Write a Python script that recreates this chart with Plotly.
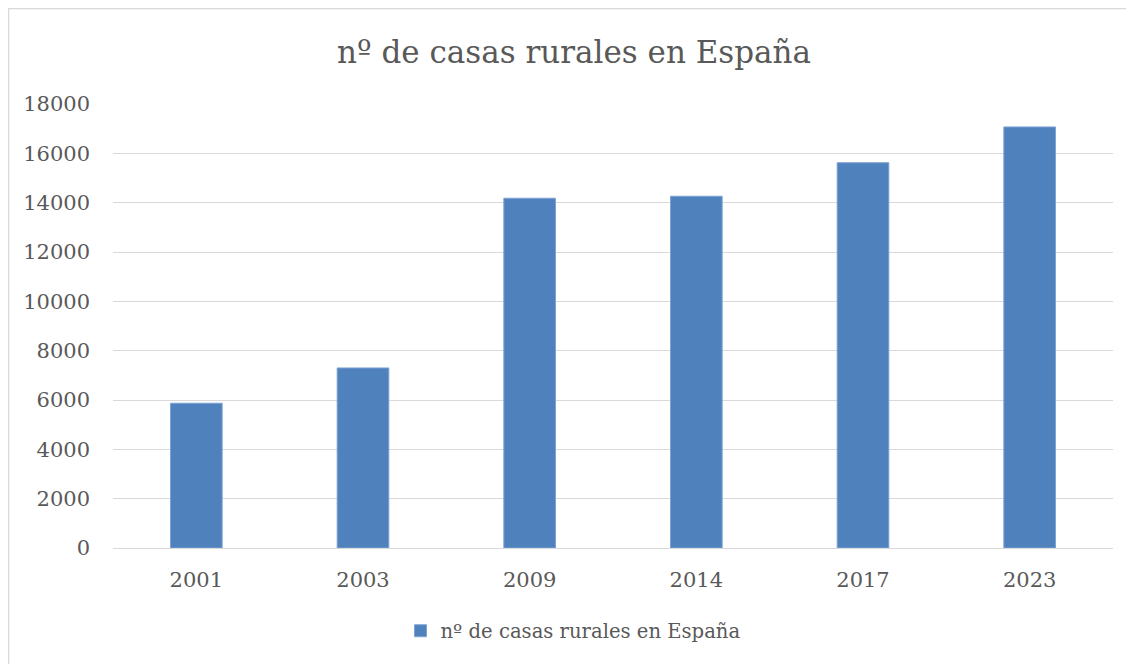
import plotly.graph_objects as go

years = ["2001", "2003", "2009", "2014", "2017", "2023"]
casas = [5870, 7300, 14180, 14260, 15620, 17070]
y_ticks = [0, 2000, 4000, 6000, 8000, 10000, 12000, 14000, 16000, 18000]

series_name = "nº de casas rurales en España"
font_family = "DejaVu Serif, Liberation Serif, serif"
txt = "#595959"

# page has an 8px body margin; figure covers 8..1134 x 8..664
W, H = 1126, 656
L, R, T, B = 105, 21, 96, 116
pw, ph = W - L - R, H - T - B

fig = go.Figure(go.Bar(
    x=years, y=casas, name=series_name,
    marker=dict(color="#4F81BD", line=dict(color="#7FA3D3", width=1)),
    width=0.31,
))

fig.update_layout(
    width=W, height=H,
    margin=dict(l=L, r=R, t=T, b=B, pad=0),
    paper_bgcolor="white", plot_bgcolor="white",
    font=dict(family=font_family, color=txt, size=20),
    title=dict(text=series_name, x=(574 - 8) / W, xanchor="center",
               y=1 - (52 - 8) / H, yanchor="middle",
               font=dict(size=31, color=txt, family=font_family)),
    showlegend=True,
    legend=dict(orientation="h", x=(573 - 8 - L) / pw, xanchor="center",
                y=(548 - 631) / ph, yanchor="middle",
                font=dict(size=19.6, color=txt), itemwidth=30),
    xaxis=dict(showgrid=False, showline=True, linecolor="#D9D9D9", linewidth=1,
               ticks="", ticklabelstandoff=13, tickfont=dict(size=21, color=txt)),
    yaxis=dict(range=[0, 18000], tickvals=y_ticks, ticktext=[str(v) for v in y_ticks],
               showgrid=True, gridcolor="#D9D9D9", gridwidth=1,
               zeroline=True, zerolinecolor="#D9D9D9", zerolinewidth=1,
               showline=False, ticks="", ticklabelstandoff=22,
               tickfont=dict(size=21, color=txt)),
    shapes=[dict(type="rect", xref="paper", yref="paper",
                 x0=(0.5 - L) / pw, x1=(W + 20 - L) / pw,
                 y0=-0.4, y1=(ph + T - 0.5) / ph,
                 line=dict(color="#D9D9D9", width=1.5), fillcolor="rgba(0,0,0,0)",
                 layer="below")],
)

fig.write_html("out.html")
